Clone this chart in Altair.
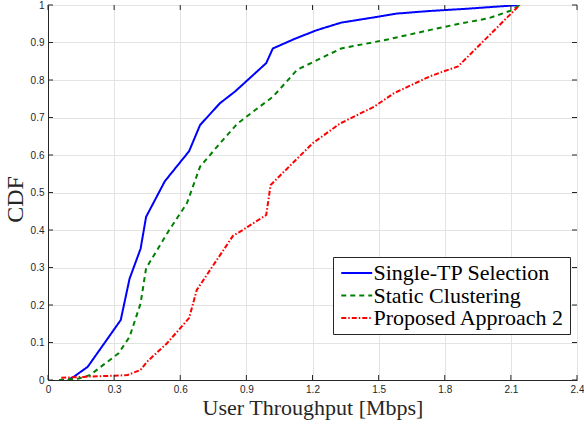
import altair as alt
import pandas as pd

single_x = [0.09, 0.12, 0.18, 0.33, 0.37, 0.42, 0.445, 0.53, 0.64, 0.69, 0.78, 0.85, 0.99, 1.02, 1.12, 1.22, 1.33, 1.5, 1.58, 1.73, 1.9, 2.14]
single_y = [0.0, 0.01, 0.035, 0.16, 0.27, 0.35, 0.435, 0.53, 0.61, 0.68, 0.738, 0.77, 0.845, 0.884, 0.91, 0.933, 0.953, 0.969, 0.977, 0.984, 0.99, 1.0]

static_x = [0.05, 0.14, 0.19, 0.32, 0.37, 0.42, 0.445, 0.55, 0.63, 0.69, 0.78, 0.86, 0.92, 1.02, 1.13, 1.22, 1.33, 1.54, 1.73, 1.85, 2.0, 2.1, 2.14]
static_y = [0.0, 0.004, 0.013, 0.071, 0.115, 0.204, 0.298, 0.4, 0.471, 0.569, 0.631, 0.684, 0.711, 0.755, 0.827, 0.853, 0.884, 0.908, 0.933, 0.948, 0.965, 0.985, 1.0]

prop_x = [0.06, 0.19, 0.36, 0.42, 0.45, 0.54, 0.64, 0.675, 0.735, 0.84, 0.87, 0.99, 1.01, 1.2, 1.325, 1.48, 1.57, 1.73, 1.78, 1.86, 2.14]
prop_y = [0.006, 0.009, 0.013, 0.027, 0.049, 0.098, 0.165, 0.24, 0.293, 0.385, 0.395, 0.44, 0.52, 0.631, 0.684, 0.729, 0.765, 0.809, 0.82, 0.836, 1.0]

series_names = ["Single-TP Selection", "Static Clustering", "Proposed Approach 2"]
x_ticks = [0, 0.3, 0.6, 0.9, 1.2, 1.5, 1.8, 2.1, 2.4]
y_ticks = [0, 0.1, 0.2, 0.3, 0.4, 0.5, 0.6, 0.7, 0.8, 0.9, 1.0]

rows = []
for name, xs, ys in zip(series_names, [single_x, static_x, prop_x], [single_y, static_y, prop_y]):
    for i, (a, b) in enumerate(zip(xs, ys)):
        rows.append({"series": name, "x": a, "y": b, "order": i})
df = pd.DataFrame(rows)

xscale = alt.Scale(domain=[0, 2.4], nice=False)
yscale = alt.Scale(domain=[0, 1], nice=False)
W, H = 529, 375

x_axis = alt.Axis(values=x_ticks, format="~g", title="User Throughput [Mbps]",
                  titleFont="Liberation Serif", titleFontSize=22, titleFontWeight="normal",
                  titleColor="#262626", titlePadding=3,
                  labelFont="Liberation Sans", labelFontSize=10, labelColor="#262626",
                  labelPadding=4, tickSize=0, domainColor="#262626",
                  gridColor="#e3e3e3", labelFlush=False)
y_axis = alt.Axis(values=y_ticks, format="~g", title="CDF",
                  titleFont="Liberation Serif", titleFontSize=24, titleFontWeight="normal",
                  titleColor="#262626", titlePadding=3, titleY=194,
                  labelFont="Liberation Sans", labelFontSize=10, labelColor="#262626",
                  labelPadding=4, tickSize=0, domainColor="#262626",
                  gridColor="#e3e3e3", labelOverlap=False)

lines = alt.Chart(df).mark_line(strokeWidth=2, clip=True).encode(
    x=alt.X("x:Q", scale=xscale, axis=x_axis),
    y=alt.Y("y:Q", scale=yscale, axis=y_axis),
    color=alt.Color("series:N", sort=series_names,
                    scale=alt.Scale(domain=series_names, range=["#0000ff", "#008000", "#ff0000"]),
                    legend=alt.Legend(title=None, orient="none", legendX=285, legendY=252,
                                      labelFont="Liberation Serif", labelFontSize=22,
                                      labelColor="#000000", symbolType="M-1,0H3",
                                      symbolSize=240, symbolStrokeWidth=2,
                                      strokeColor="#262626", fillColor="white",
                                      padding=5, rowPadding=0.5, labelOffset=13.5,
                                      labelLimit=300)),
    strokeDash=alt.StrokeDash("series:N", sort=series_names,
                              scale=alt.Scale(domain=series_names,
                                              range=[[1, 0], [5, 4], [5, 2, 1.5, 2]]),
                              legend=None),
    detail="series:N",
    order="order:Q",
)

xt = pd.DataFrame({"x": x_ticks})
yt = pd.DataFrame({"y": y_ticks})
tick_color = "#262626"
tb = alt.Chart(xt).mark_rule(color=tick_color, strokeWidth=1).encode(
    x=alt.X("x:Q", scale=xscale, axis=x_axis), y=alt.value(H), y2=alt.value(H - 5))
tt = alt.Chart(xt).mark_rule(color=tick_color, strokeWidth=1).encode(
    x=alt.X("x:Q", scale=xscale, axis=x_axis), y=alt.value(0), y2=alt.value(5))
tl = alt.Chart(yt).mark_rule(color=tick_color, strokeWidth=1).encode(
    y=alt.Y("y:Q", scale=yscale, axis=y_axis), x=alt.value(0), x2=alt.value(5))
tr = alt.Chart(yt).mark_rule(color=tick_color, strokeWidth=1).encode(
    y=alt.Y("y:Q", scale=yscale, axis=y_axis), x=alt.value(W), x2=alt.value(W - 5))

chart = alt.layer(lines, tb, tt, tl, tr).properties(
    width=W, height=H,
    autosize=alt.AutoSizeParams(type="none"),
    padding={"left": 48, "top": 5, "right": 7, "bottom": 48},
).configure_view(stroke="#262626", strokeWidth=1).configure(background="white")

chart.save("out.html", embed_options={"renderer": "svg", "actions": False})
